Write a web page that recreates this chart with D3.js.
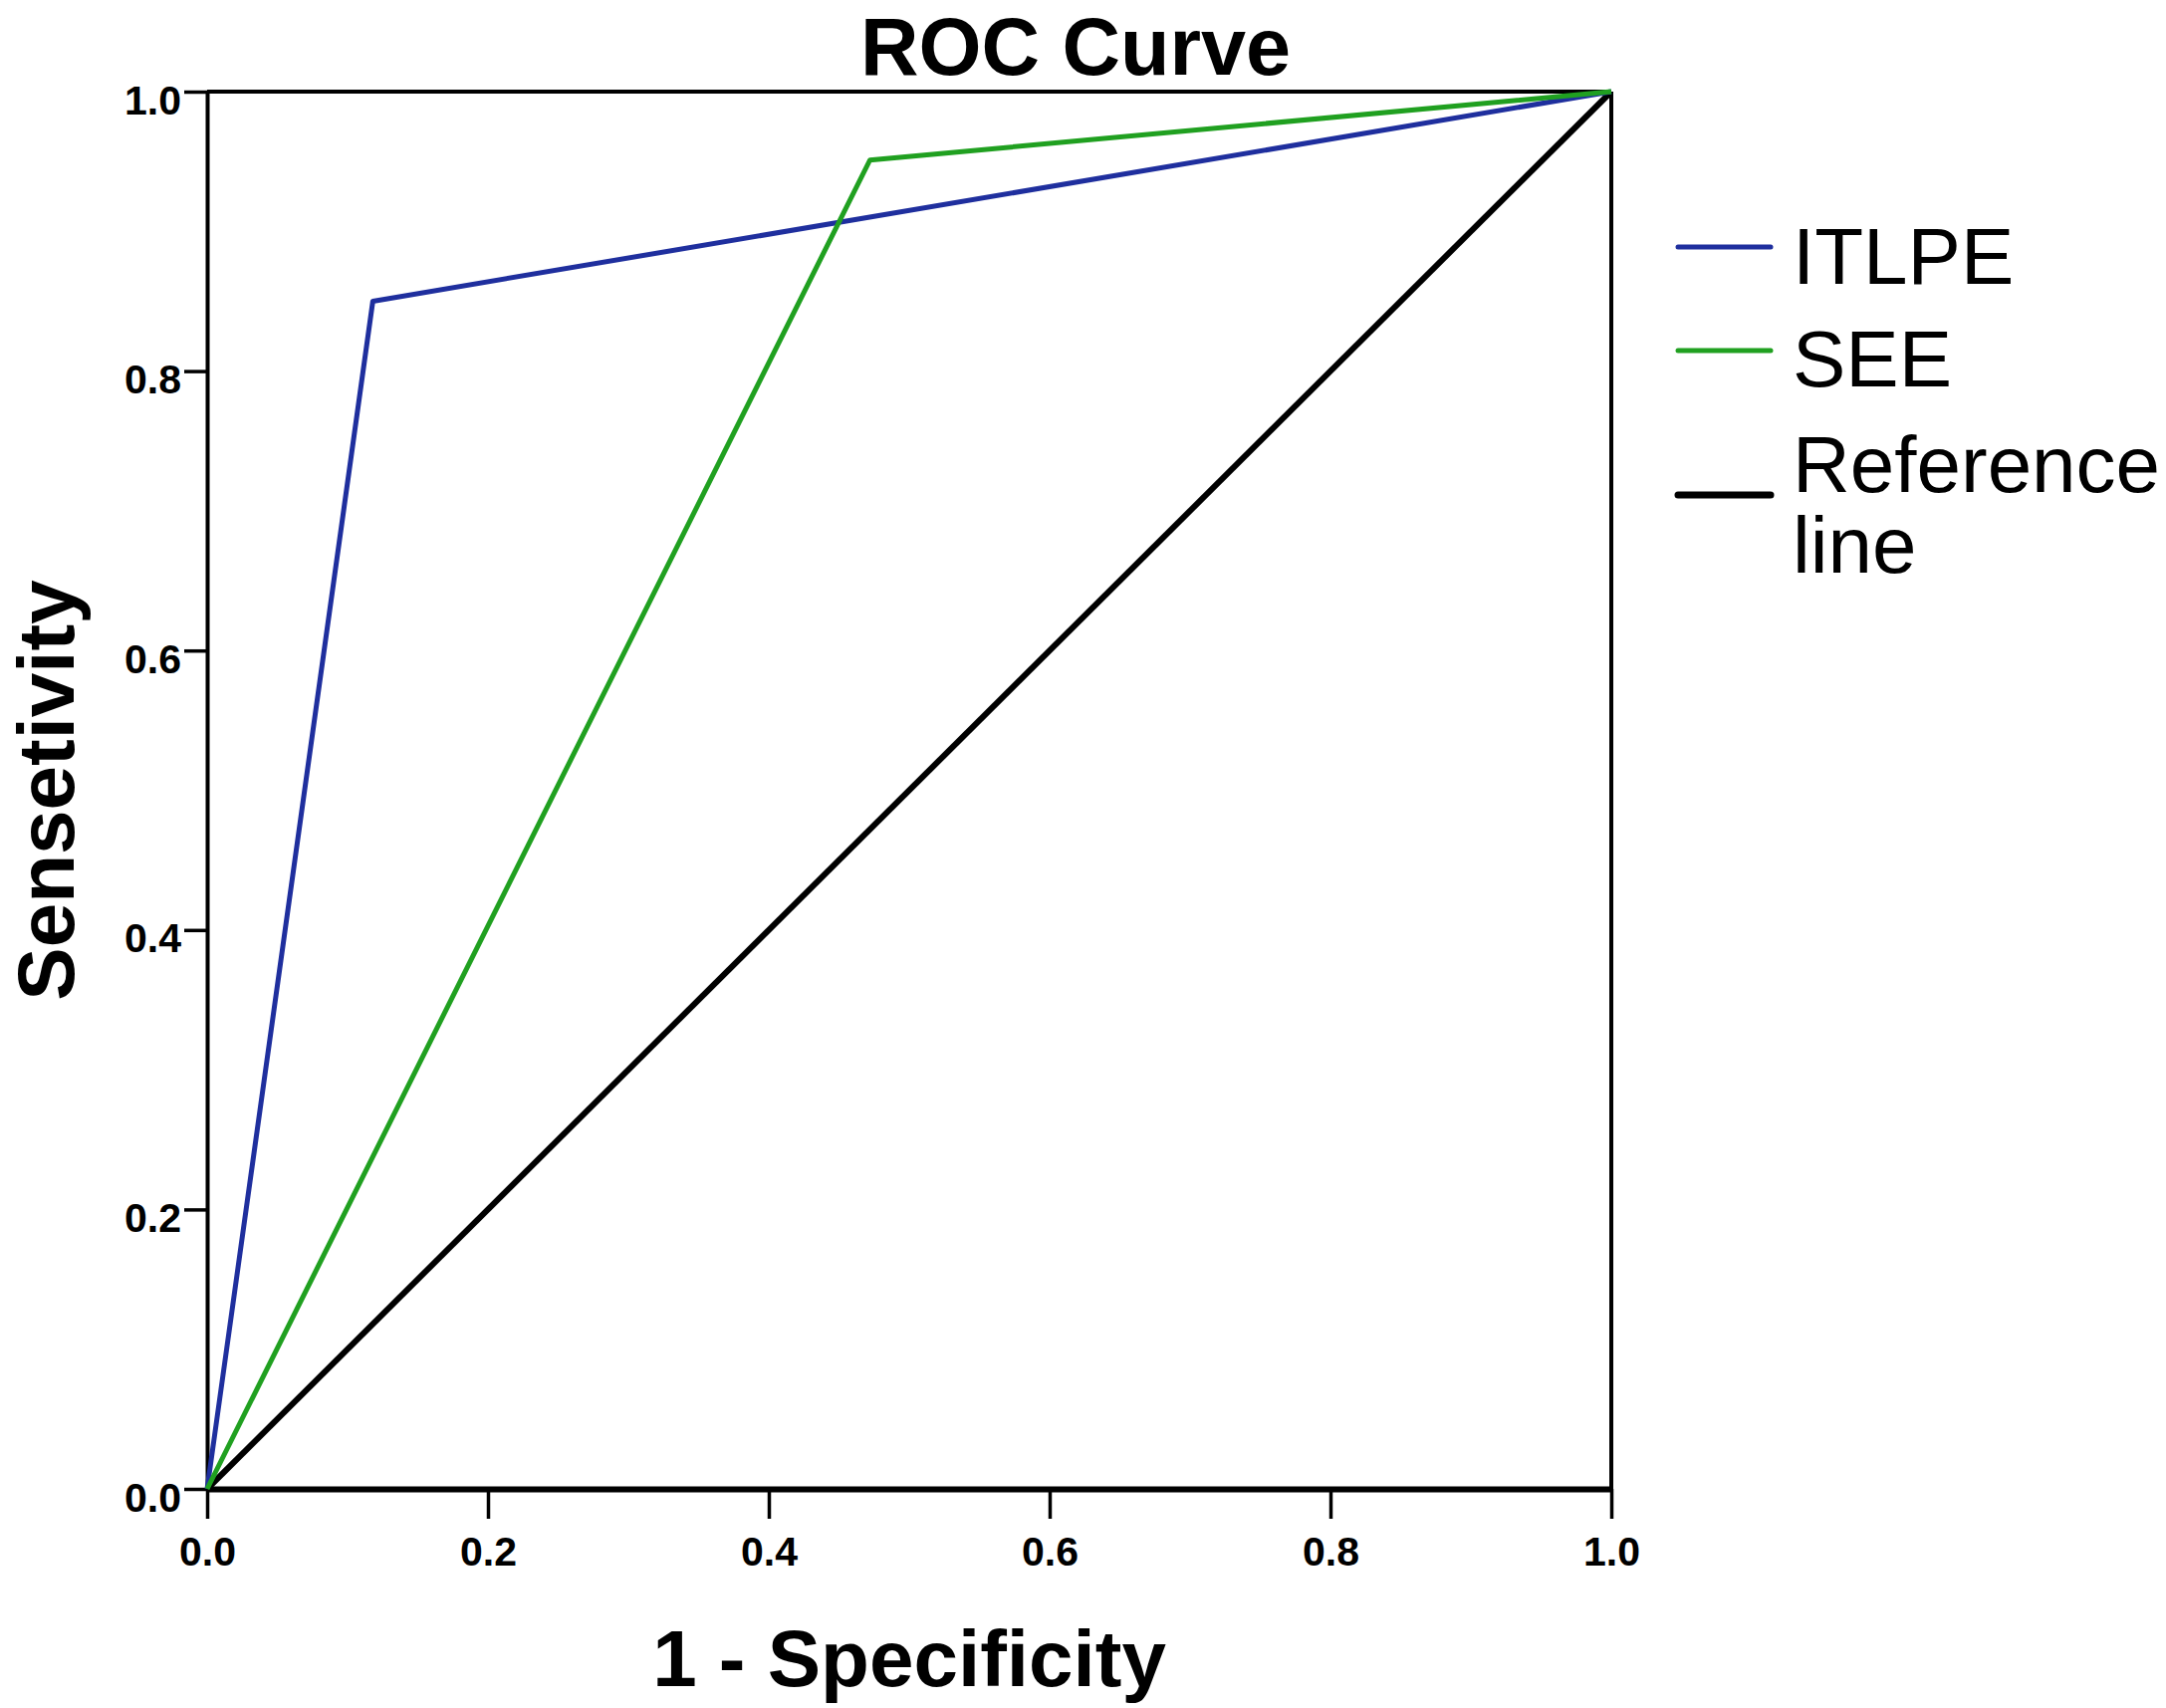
<!DOCTYPE html>
<html>
<head>
<meta charset="utf-8">
<script src="https://cdn.jsdelivr.net/npm/d3@7"></script>
<style>
  body { margin: 0; background: #fff; }
  text { font-family: "Liberation Sans", Arial, sans-serif; fill: #000; }
</style>
</head>
<body>
<svg id="chart" width="2175" height="1715"></svg>
<script>
// data
const seriesNames = ["ITLPE", "SEE"];
const itlpeFpr = [0, 0.118, 1];
const itlpeTpr = [0, 0.85, 1];
const seeFpr = [0, 0.472, 1];
const seeTpr = [0, 0.951, 1];
const refFpr = [0, 1];
const refTpr = [0, 1];
const tickValues = [0, 0.2, 0.4, 0.6, 0.8, 1.0];
const legendLabels = [["ITLPE"], ["SEE"], ["Reference", "line"]];

let svg = d3.select("#chart");

let plot = {left: 208, right: 1618, top: 92, bottom: 1495};

let x = d3.scaleLinear().domain([0, 1]).range([plot.left, plot.right]);
let y = d3.scaleLinear().domain([0, 1]).range([plot.bottom, plot.top]);

// frame top + right
svg.append("line")
    .attr("x1", plot.left).attr("x2", plot.right)
    .attr("y1", plot.top).attr("y2", plot.top)
    .attr("stroke", "#000").attr("stroke-width", 4);
svg.append("line")
    .attr("x1", plot.right).attr("x2", plot.right)
    .attr("y1", plot.top).attr("y2", plot.bottom)
    .attr("stroke", "#000").attr("stroke-width", 4);

// axes
let xAxis = d3.axisBottom(x).tickValues(tickValues).tickSize(30).tickSizeOuter(0)
    .tickFormat(d3.format(".1f"));
let yAxis = d3.axisLeft(y).tickValues(tickValues).tickSize(23).tickSizeOuter(0)
    .tickFormat(d3.format(".1f"));

let gx = svg.append("g").attr("transform", "translate(0," + plot.bottom + ")").call(xAxis);
let gy = svg.append("g").attr("transform", "translate(" + plot.left + ",0)").call(yAxis);

gx.select(".domain").attr("stroke-width", 6);
gy.select(".domain").attr("stroke-width", 4);
gx.selectAll(".tick line").attr("stroke-width", 3.5);
gy.selectAll(".tick line").attr("stroke-width", 3.5);

gx.selectAll(".tick text")
    .attr("y", 0).attr("dy", 0)
    .attr("transform", "translate(0,77)")
    .style("font-size", "41px").style("font-weight", "bold")
    .style("font-family", "Liberation Sans, Arial, sans-serif");
gy.selectAll(".tick text")
    .attr("x", -26).attr("dy", 0)
    .attr("transform", "translate(0,22)")
    .style("font-size", "41px").style("font-weight", "bold")
    .style("font-family", "Liberation Sans, Arial, sans-serif");

// curves
let line = d3.line().x(d => x(d[0])).y(d => y(d[1]));

let curves = [
    {name: "Reference", pts: d3.zip(refFpr, refTpr), color: "#000", width: 6},
    {name: "ITLPE", pts: d3.zip(itlpeFpr, itlpeTpr), color: "#1f2f9e", width: 5},
    {name: "SEE", pts: d3.zip(seeFpr, seeTpr), color: "#20a020", width: 5}
];

svg.append("g").selectAll("path")
    .data(curves).enter()
    .append("path")
    .attr("d", d => line(d.pts))
    .attr("fill", "none")
    .attr("stroke", d => d.color)
    .attr("stroke-width", d => d.width)
    .attr("stroke-linejoin", "round");

// titles
svg.append("text")
    .attr("x", 1080).attr("y", 75)
    .attr("text-anchor", "middle")
    .style("font-size", "81px").style("font-weight", "bold")
    .text("ROC Curve");

svg.append("text")
    .attr("x", (plot.left + plot.right) / 2).attr("y", 1693)
    .attr("text-anchor", "middle")
    .style("font-size", "80px").style("font-weight", "bold")
    .text("1 - Specificity");

svg.append("text")
    .attr("transform", "translate(74," + ((plot.top + plot.bottom) / 2) + ") rotate(-90)")
    .attr("text-anchor", "middle")
    .style("font-size", "80px").style("font-weight", "bold")
    .text("Sensetivity");

// legend
let legendColors = ["#1f2f9e", "#20a020", "#000"];
let legendLineY = [248, 352, 497];
let legendTextY = [285, 388, 494];

let legend = svg.append("g");
legendLabels.forEach(function(lines, i){
    legend.append("line")
        .attr("x1", 1685).attr("x2", 1778)
        .attr("y1", legendLineY[i]).attr("y2", legendLineY[i])
        .attr("stroke", legendColors[i])
        .attr("stroke-width", i == 2 ? 7 : 5)
        .attr("stroke-linecap", "round");
    let t = legend.append("text")
        .attr("x", 1800).attr("y", legendTextY[i])
        .style("font-size", "80px");
    t.selectAll("tspan").data(lines).enter()
        .append("tspan")
        .attr("x", 1800)
        .attr("dy", (d, j) => j == 0 ? 0 : 81)
        .text(d => d);
});
</script>
</body>
</html>
